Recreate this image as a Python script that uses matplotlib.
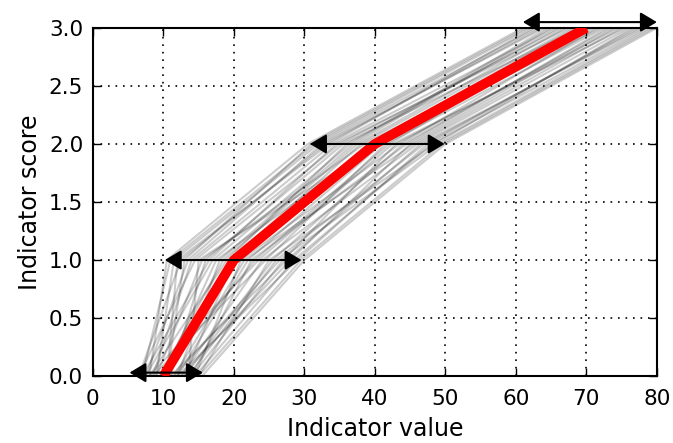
import numpy as np
import matplotlib.pyplot as plt

# score levels and the indicator value at which each line reaches them
score_levels = [0.0, 1.0, 2.0, 3.0]

# individual (gray) curves: x at score 0, 1, 2, 3
gray_curves = [
    [7.0, 11.0, 31.5, 62.0], [8.5, 14.0, 34.0, 65.5], [12.0, 22.0, 41.0, 71.0],
    [14.5, 28.5, 48.0, 78.5], [9.5, 18.5, 37.5, 67.0], [11.0, 16.0, 35.5, 69.0],
    [13.0, 25.5, 44.0, 73.5], [10.5, 20.5, 39.0, 68.5], [6.5, 12.5, 33.0, 63.5],
    [15.0, 29.5, 49.5, 79.5], [8.0, 19.0, 36.0, 66.0], [12.5, 24.0, 46.0, 76.0],
    [9.0, 15.5, 38.5, 70.5], [14.0, 27.0, 43.0, 74.5], [7.5, 13.5, 32.5, 64.0],
    [11.5, 21.5, 45.5, 75.0], [10.0, 17.5, 40.0, 72.0], [13.5, 26.0, 47.0, 77.5],
    [8.0, 10.5, 30.5, 61.0], [15.5, 30.0, 50.0, 80.0], [9.5, 23.0, 42.0, 69.5],
    [12.0, 18.0, 37.0, 65.0], [7.0, 16.5, 34.5, 67.5], [14.0, 22.5, 44.5, 73.0],
    [10.5, 12.0, 33.5, 62.5], [11.0, 27.5, 46.5, 78.0], [13.0, 20.0, 39.5, 70.0],
    [8.5, 24.5, 41.5, 72.5], [6.5, 14.5, 35.0, 66.5], [15.0, 25.0, 48.5, 76.5],
    [9.0, 11.5, 32.0, 63.0], [12.5, 28.0, 45.0, 74.0], [10.0, 19.5, 38.0, 68.0],
    [14.5, 21.0, 43.5, 71.5], [7.5, 17.0, 36.5, 64.5], [11.5, 26.5, 49.0, 79.0],
    [13.5, 15.0, 40.5, 69.0], [8.0, 23.5, 42.5, 75.5], [10.5, 13.0, 31.0, 61.5],
    [12.0, 29.0, 47.5, 77.0],
]

# consensus (red) curve
red_x = [10, 20, 40, 70]
red_y = [0.0, 1.0, 2.0, 3.0]

# ranges shown by the double arrows
arrow_y = [0.03, 1.0, 2.0, 3.05]
arrow_lo = [5.2, 10.2, 30.8, 61.0]
arrow_hi = [15.6, 29.6, 49.9, 80.0]

fig = plt.figure(figsize=(6.73, 4.43), dpi=100)
ax = fig.add_axes([0.138, 0.151, 0.838, 0.786])

for xs in gray_curves:
    ax.plot(xs, score_levels, color='k', alpha=0.2, lw=1.5)

ax.plot(red_x, red_y, color='#ff0000', lw=7, solid_capstyle='butt', zorder=5)

for y, lo, hi in zip(arrow_y, arrow_lo, arrow_hi):
    ax.annotate('', xy=(hi, y), xytext=(lo, y), annotation_clip=False,
                arrowprops=dict(arrowstyle='<|-|>,head_length=0.5,head_width=0.3',
                                color='k', lw=1.5, mutation_scale=20,
                                shrinkA=0, shrinkB=0), zorder=6)

ax.set_xlim(0, 80)
ax.set_ylim(0, 3)
ax.set_xticks(np.arange(0, 81, 10))
ax.set_yticks(np.arange(0, 3.01, 0.5))
ax.set_yticklabels(['%.1f' % v for v in np.arange(0, 3.01, 0.5)])
ax.grid(True, color='k', linestyle=(0, (1, 3.5)), lw=1.2)
ax.tick_params(direction='in', top=True, right=True, length=6, width=1,
               labelsize=15.5, pad=7)
ax.tick_params(axis='x', pad=9)
for s in ax.spines.values():
    s.set_linewidth(1.5)

ax.set_xlabel('Indicator value', fontsize=17, labelpad=6)
ax.set_ylabel('Indicator score', fontsize=17, labelpad=5)

fig.savefig('out.png', dpi=100)
